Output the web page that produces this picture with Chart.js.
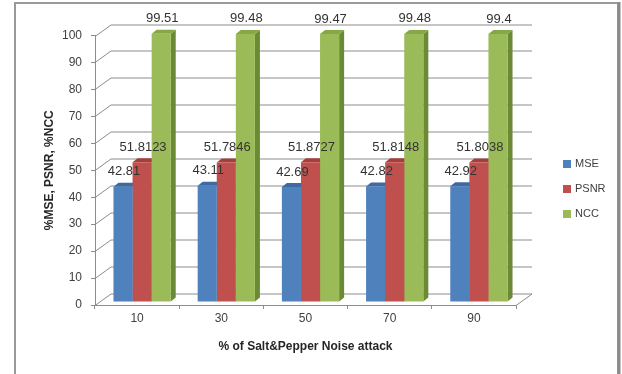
<!DOCTYPE html>
<html>
<head>
<meta charset="utf-8">
<script src="https://cdn.jsdelivr.net/npm/chart.js@4/dist/chart.umd.min.js"></script>
<style>
  html, body { margin: 0; padding: 0; background: #ffffff; }
  canvas { display: block; }
</style>
</head>
<body>
<canvas id="chart" width="622" height="374"></canvas>
<script>
// Salt & pepper noise levels (x axis categories)
const categories = ['10', '30', '50', '70', '90'];

// Measured quality values per noise level
const mseValues  = [42.81, 43.11, 42.69, 42.82, 42.92];
const psnrValues = [51.8123, 51.7846, 51.8727, 51.8148, 51.8038];
const nccValues  = [99.51, 99.48, 99.47, 99.48, 99.4];

// Value axis range
const yMin = 0;
const yMax = 100;
const yStep = 10;

const seriesNames = ['MSE', 'PSNR', 'NCC'];

const FONT = 'Liberation Sans, Arial, sans-serif';
const GRID = '#8c8c8c';

// colours: front face, top face, side face
const palette = [
  { front: '#4f81bd', top: '#3d6aa3', side: '#2f5687' },
  { front: '#c0504d', top: '#a63f3c', side: '#8a302e' },
  { front: '#9bbb59', top: '#86a746', side: '#6b8a35' }
];

// perspective offsets
const WALL_DX = 16, WALL_DY = -11.5;   // depth of the back wall
const BAR_SHIFT_X = 5, BAR_SHIFT_Y = -3; // bars stand slightly inside the floor
const BAR_DX = 5, BAR_DY = -4;         // depth of each column

const threeD = {
  id: 'threeD',
  beforeDraw(chart) {
    const ctx = chart.ctx;
    ctx.save();
    ctx.fillStyle = '#ffffff';
    ctx.fillRect(0, 0, chart.width, chart.height);
    // outer frame
    ctx.strokeStyle = '#9a9a9a';
    ctx.lineWidth = 2;
    ctx.strokeRect(15, 3, 603, 380);
    ctx.strokeStyle = '#8a8a8a';
    ctx.lineWidth = 3;
    ctx.beginPath();
    ctx.moveTo(619, 2);
    ctx.lineTo(619, 374);
    ctx.stroke();
    ctx.restore();
  },
  beforeDatasetsDraw(chart) {
    const ctx = chart.ctx;
    const y = chart.scales.y;
    const area = chart.chartArea;
    // back wall grid lines and the side diagonals
    ctx.save();
    ctx.strokeStyle = GRID;
    ctx.lineWidth = 1;
    for (let v = yMin; v <= yMax; v += yStep) {
      const py = Math.round(y.getPixelForValue(v)) + 0.5;
      ctx.beginPath();
      ctx.moveTo(area.left, py);
      ctx.lineTo(area.left + WALL_DX, py + WALL_DY);
      ctx.lineTo(area.right + WALL_DX, py + WALL_DY);
      ctx.stroke();
    }
    // floor right edge
    const p0 = Math.round(y.getPixelForValue(yMin)) + 0.5;
    ctx.beginPath();
    ctx.moveTo(area.right, p0);
    ctx.lineTo(area.right + WALL_DX, p0 + WALL_DY);
    ctx.stroke();
    ctx.restore();

    // shift columns into the floor, then draw their top and side faces
    ctx.save();
    ctx.translate(BAR_SHIFT_X, BAR_SHIFT_Y);
    const metas = chart.getSortedVisibleDatasetMetas().slice().sort((a, b) => a.index - b.index);
    for (let i = 0; i < categories.length; i++) {
      metas.forEach(meta => {
        const el = meta.data[i];
        const { x, y: top, base, width } = el.getProps(['x', 'y', 'base', 'width'], true);
        const l = x - width / 2, r = x + width / 2;
        const c = palette[meta.index];
        ctx.fillStyle = c.side;
        ctx.beginPath();
        ctx.moveTo(r, top);
        ctx.lineTo(r + BAR_DX, top + BAR_DY);
        ctx.lineTo(r + BAR_DX, base + BAR_DY);
        ctx.lineTo(r, base);
        ctx.closePath();
        ctx.fill();
        ctx.fillStyle = c.top;
        ctx.beginPath();
        ctx.moveTo(l, top);
        ctx.lineTo(l + BAR_DX, top + BAR_DY);
        ctx.lineTo(r + BAR_DX, top + BAR_DY);
        ctx.lineTo(r, top);
        ctx.closePath();
        ctx.fill();
      });
    }
  },
  afterDatasetsDraw(chart) {
    const ctx = chart.ctx;
    // value labels above every column (still in the shifted frame)
    ctx.font = '13px ' + FONT;
    ctx.fillStyle = '#333333';
    ctx.textAlign = 'center';
    ctx.textBaseline = 'middle';
    chart.getSortedVisibleDatasetMetas().forEach(meta => {
      const values = chart.data.datasets[meta.index].data;
      meta.data.forEach((el, i) => {
        const { x, y } = el.getProps(['x', 'y'], true);
        ctx.fillText(String(values[i]), x + 1, y - 15);
      });
    });
    ctx.restore();
  },
  afterDraw(chart) {
    const ctx = chart.ctx;
    // legend
    ctx.save();
    ctx.font = '11px ' + FONT;
    ctx.textAlign = 'left';
    ctx.textBaseline = 'middle';
    const legendY = [164, 189, 214];
    seriesNames.forEach((name, k) => {
      ctx.fillStyle = palette[k].front;
      ctx.fillRect(563, legendY[k] - 4, 8, 8);
      ctx.fillStyle = '#404040';
      ctx.fillText(name, 575, legendY[k]);
    });
    ctx.restore();
  }
};

new Chart(document.getElementById('chart'), {
  type: 'bar',
  data: {
    labels: categories,
    datasets: [
      { label: seriesNames[0], data: mseValues,  backgroundColor: palette[0].front },
      { label: seriesNames[1], data: psnrValues, backgroundColor: palette[1].front },
      { label: seriesNames[2], data: nccValues,  backgroundColor: palette[2].front }
    ]
  },
  options: {
    responsive: false,
    animation: false,
    events: [],
    datasets: {
      bar: { categoryPercentage: 0.68, barPercentage: 1.0, borderWidth: 0, clip: false }
    },
    layout: { padding: { left: 36, right: 106, top: 35.5, bottom: 0 } },
    plugins: {
      legend: { display: false },
      tooltip: { enabled: false }
    },
    scales: {
      x: {
        offset: true,
        grid: { offset: true, drawOnChartArea: false, drawTicks: true, tickLength: 4, color: GRID },
        border: { color: GRID },
        ticks: { font: { family: FONT, size: 12 }, color: '#404040', padding: 2, maxRotation: 0 },
        title: {
          display: true,
          text: '% of Salt&Pepper Noise attack',
          font: { family: FONT, size: 12, weight: 'bold' },
          color: '#262626',
          padding: { top: 0, bottom: 20 }
        },
        afterFit(scale) { scale.height = 69; }
      },
      y: {
        min: yMin,
        max: yMax,
        grid: { drawOnChartArea: false, drawTicks: true, tickLength: 4, color: GRID },
        border: { color: GRID },
        ticks: { stepSize: yStep, font: { family: FONT, size: 12 }, color: '#404040', padding: 9 },
        title: {
          display: true,
          text: '%MSE, PSNR, %NCC',
          font: { family: FONT, size: 12, weight: 'bold' },
          color: '#262626',
          padding: { top: 6, bottom: 0 }
        },
        afterFit(scale) { scale.width = 59; }
      }
    }
  },
  plugins: [threeD]
});
</script>
</body>
</html>
